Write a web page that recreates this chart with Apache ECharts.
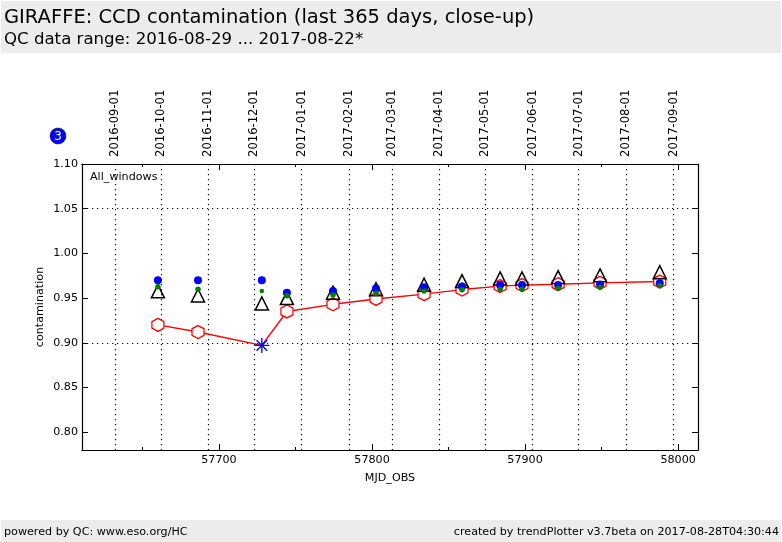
<!DOCTYPE html>
<html><head><meta charset="utf-8">
<style>html,body{margin:0;padding:0;background:#fff}#c{width:782px;height:542px}</style>
<script src="https://cdn.jsdelivr.net/npm/echarts@6/dist/echarts.min.js"></script>
</head><body><div id="c"></div>
<script>
const mjd = [57660.1,57686.3,57728,57744.4,57774.5,57802.6,57834,57858.8,57883.7,57898,57921.6,57949,57988];
const blueValues  = [.970,.970,.970,.956,.958,.9608,.962,.963,.9645,.9645,.9645,.9653,.9667];
const greenValues = [.9626,.960,.9578,.9525,.9535,.9555,.958,.9592,.960,.960,.961,.962,.9637];
const triValues   = [.9575,.953,.944,.950,.956,.960,.965,.969,.972,.972,.9735,.9754,.979];
const redValues   = [.920,.912,.897,.935,.943,.949,.9544,.9595,.9634,.9645,.9655,.967,.9685];
const outlierIndex = 2;
const dateTicks = [57632,57662,57693,57723,57754,57785,57813,57844,57874,57905,57935,57966,57997];
const dateLabels = ['2016-09-01','2016-10-01','2016-11-01','2016-12-01','2017-01-01','2017-02-01','2017-03-01','2017-04-01','2017-05-01','2017-06-01','2017-07-01','2017-08-01','2017-09-01'];
const majorTicks = [57700,57800,57900,58000];
const minorTicks = [57650,57750,57850,57950];
const yTicks = [0.80,0.85,0.90,0.95,1.00,1.05,1.10];
const gridY = [0.90,1.05];
const xMin = 57610.5, xMax = 58013;
const font = 'DejaVu Sans';
const fs = 11.15;
const hex = 'path://M0,-10 L8.66,-5 L8.66,5 L0,10 L-8.66,5 L-8.66,-5 Z';
const star = 'path://M-0.9,-10 L0.9,-10 L0.9,-2.2 L6.4,-7.7 L7.7,-6.4 L2.2,-0.9 L10,-0.9 L10,0.9 L2.2,0.9 L7.7,6.4 L6.4,7.7 L0.9,2.2 L0.9,10 L-0.9,10 L-0.9,2.2 L-6.4,7.7 L-7.7,6.4 L-2.2,0.9 L-10,0.9 L-10,-0.9 L-2.2,-0.9 L-7.7,-6.4 L-6.4,-7.7 L-0.9,-2.2 Z';
const pts = v => mjd.map((m,i)=>[m,v[i]]);
const axLine = {show:true,lineStyle:{color:'#000',width:1.2}};
const dotted = {color:'#000',width:1.2,type:[1.2,3.8]};
function xAx(position, ticks, len, opts){
  return Object.assign({type:'value',min:xMin,max:xMax,position,
    axisLine:axLine,
    axisTick:{show:true,inside:true,length:len,customValues:ticks,lineStyle:{color:'#000',width:1}},
    axisLabel:{show:false},splitLine:{show:false}},opts||{});
}
const option = {
  animation:false,
  backgroundColor:'#fff',
  grid:{left:82,top:164,width:616,height:286,containLabel:false},
  xAxis:[
    xAx('bottom',majorTicks,6,{name:'MJD_OBS',nameLocation:'middle',nameGap:23,nameTextStyle:{fontFamily:font,fontSize:fs,color:'#000'},
      axisLabel:{show:true,customValues:majorTicks,margin:5,fontFamily:font,fontSize:fs,color:'#000',formatter:v=>String(v)}}),
    xAx('bottom',minorTicks,3),
    xAx('top',majorTicks,6),
    xAx('top',minorTicks,3),
    xAx('top',dateTicks,0,{
      axisTick:{show:false,customValues:dateTicks},
      axisLabel:{show:true,customValues:dateTicks,rotate:-90,margin:7,fontFamily:font,fontSize:11.6,color:'#000',
        formatter:v=>dateLabels[dateTicks.indexOf(v)]},
      splitLine:{show:true,lineStyle:dotted}})
  ],
  yAxis:[
    {type:'value',min:0.78,max:1.10,position:'left',name:'contamination',nameLocation:'middle',nameGap:36,nameMoveOverlap:false,
     nameTextStyle:{fontFamily:font,fontSize:fs,color:'#000'},
     axisLine:axLine,
     axisTick:{show:true,inside:true,length:6,customValues:yTicks,lineStyle:{color:'#000'}},
     axisLabel:{customValues:yTicks,margin:4,fontFamily:font,fontSize:fs,color:'#000',formatter:v=>v.toFixed(2)},
     splitLine:{show:false}},
    {type:'value',min:0.78,max:1.10,position:'right',
     axisLine:axLine,
     axisTick:{show:true,inside:true,length:6,customValues:yTicks,lineStyle:{color:'#000'}},
     axisLabel:{show:false},splitLine:{show:false}},
    {type:'value',min:0.78,max:1.10,position:'left',
     axisLine:{show:false},axisTick:{show:false,customValues:gridY},axisLabel:{show:false,customValues:gridY},
     splitLine:{show:true,lineStyle:dotted}}
  ],
  series:[
    {type:'line',name:'red',data:pts(redValues).map((p,i)=> i===outlierIndex ?
        {value:p,symbol:star,symbolSize:15,itemStyle:{color:'#0000ff',borderColor:'#0000ff',borderWidth:0}} : {value:p}),
     symbol:hex,symbolSize:[12,13],showAllSymbol:true,
     itemStyle:{color:'#fff',borderColor:'#ff0000',borderWidth:1.3,opacity:1},
     lineStyle:{color:'#ff0000',width:1.4},z:3},
    {type:'scatter',name:'tri',data:pts(triValues),symbol:'triangle',symbolSize:[13,13],
     itemStyle:{color:'transparent',borderColor:'#000',borderWidth:1.5,opacity:1},z:4},
    {type:'scatter',name:'blue',data:pts(blueValues),symbol:'circle',symbolSize:8,itemStyle:{color:'#0000ff',opacity:1},z:5},
    {type:'scatter',name:'green',data:pts(greenValues).map((p,i)=> i===outlierIndex ? {value:p,symbolSize:4.5} : {value:p}),symbol:'circle',symbolSize:5.5,itemStyle:{color:'#008000',opacity:1},z:6}
  ],
  graphic:[
    {type:'rect',shape:{x:1,y:1,width:780,height:52},style:{fill:'#ececec'},z:-1},
    {type:'rect',shape:{x:1,y:520,width:780,height:22},style:{fill:'#ececec'},z:-1},
    {type:'text',x:4,y:8,style:{text:'GIRAFFE: CCD contamination (last 365 days, close-up)',font:'19.5px "DejaVu Sans"',fill:'#000'}},
    {type:'text',x:4,y:31,style:{text:'QC data range: 2016-08-29 ... 2017-08-22*',font:'16.6px "DejaVu Sans"',fill:'#000'}},
    {type:'text',x:4,y:527,style:{text:'powered by QC: www.eso.org/HC',font:'11.15px "DejaVu Sans"',fill:'#000'}},
    {type:'text',right:3,y:527,style:{text:'created by trendPlotter v3.7beta on 2017-08-28T04:30:44',font:'11.15px "DejaVu Sans"',fill:'#000'}},
    {type:'text',x:90,y:172,style:{text:'All_windows',font:'11.15px "DejaVu Sans"',fill:'#000'},z:10},
    {type:'circle',shape:{cx:58,cy:136,r:8},style:{fill:'#0000ff',stroke:'#000020',lineWidth:0.5},z:10},
    {type:'text',x:58,y:136.5,style:{text:'3',font:'12px "DejaVu Sans"',fill:'#fff',align:'center',verticalAlign:'middle'},z:11}
  ]
};
option.series.forEach(s=>{s.xAxisIndex=0;s.yAxisIndex=0;s.clip=false;});
const chart = echarts.init(document.getElementById('c'),null,{renderer:'canvas'});
chart.setOption(option);
</script></body></html>
